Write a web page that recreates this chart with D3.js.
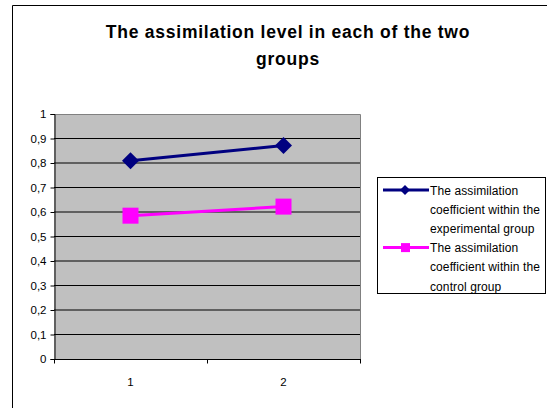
<!DOCTYPE html>
<html><head><meta charset="utf-8">
<script src="https://cdn.jsdelivr.net/npm/d3@7"></script>
<style>body{margin:0;background:#fff}svg{display:block}text{font-family:"Liberation Sans",Arial,sans-serif}</style>
</head><body>
<svg id="c" width="547" height="408"></svg>
<script>
const categories = ["1", "2"];
const seriesNames = ["The assimilation coefficient within the experimental group", "The assimilation coefficient within the control group"];
const experimental = [0.809, 0.871];
const control = [0.585, 0.622];
const yTicks = [0, 0.1, 0.2, 0.3, 0.4, 0.5, 0.6, 0.7, 0.8, 0.9, 1];
const yTickLabels = ["0", "0,1", "0,2", "0,3", "0,4", "0,5", "0,6", "0,7", "0,8", "0,9", "1"];
const titleLines = ["The assimilation level in each of the two", "groups"];
const legendLines = [["The assimilation", "coefficient within the", "experimental group"], ["The assimilation", "coefficient within the", "control group"]];

const svg = d3.select("#c");
// outer border
svg.append("path").attr("d", "M12.5,408V5.5H547").attr("fill", "none").attr("stroke", "#000").attr("stroke-width", 1);

// title
svg.append("g").selectAll("text").data(titleLines).join("text")
  .attr("x", 288).attr("y", (d, i) => 37.5 + i * 27)
  .attr("text-anchor", "middle").attr("font-size", 17.5).attr("font-weight", "bold")
  .attr("letter-spacing", 0.75)
  .attr("fill", "#000").text(d => d);

const L = 54, R = 360, T = 114, B = 359;
const x = d3.scaleBand().domain(categories).range([L, R]);
const y = d3.scaleLinear().domain([0, 1]).range([B, T]);

svg.append("rect").attr("x", L).attr("y", T).attr("width", R - L).attr("height", B - T).attr("fill", "#c0c0c0");
// gridlines
svg.append("g").selectAll("line").data(yTicks.slice(1, -1)).join("line")
  .attr("x1", L).attr("x2", R).attr("y1", d => y(d)).attr("y2", d => y(d))
  .attr("stroke", "#000").attr("stroke-width", 1);
// plot border top/right
svg.append("path").attr("d", `M${L},${T + 0.5}H${R + 0.5}V${B}`).attr("fill", "none").attr("stroke", "#808080").attr("stroke-width", 1);

// y axis
const yAxis = d3.axisLeft(y).tickValues(yTicks).tickFormat((d, i) => yTickLabels[i]).tickSizeOuter(0).tickSize(4).tickPadding(4);
const gy = svg.append("g").attr("transform", `translate(${L + 0.5},0)`).call(yAxis);
gy.selectAll("text").attr("font-size", 11.5).attr("font-family", "Liberation Sans, Arial, sans-serif").attr("fill", "#000");
gy.select(".domain").attr("stroke", "#000");
gy.selectAll(".tick line").attr("stroke", "#000");

// x axis
const xAxis = d3.axisBottom(x).tickSize(0).tickPadding(18);
const gx = svg.append("g").attr("transform", `translate(0,${B + 0.5})`).call(xAxis);
gx.selectAll("text").attr("font-size", 11.5).attr("font-family", "Liberation Sans, Arial, sans-serif").attr("fill", "#000");
gx.select(".domain").attr("d", `M${L},0H${R + 1}`).attr("stroke", "#000");
const bounds = [L, ...categories.map(c => x(c) + x.bandwidth())];
gx.append("g").selectAll("line").data(bounds).join("line")
  .attr("x1", d => d + 0.5).attr("x2", d => d + 0.5).attr("y1", 0).attr("y2", 4).attr("stroke", "#000");

const cx = c => x(c) + x.bandwidth() / 2;
const line = d3.line().x((d, i) => cx(categories[i])).y(d => y(d));
// experimental series
svg.append("path").datum(experimental).attr("d", line).attr("fill", "none").attr("stroke", "#000080").attr("stroke-width", 3);
svg.append("g").selectAll("path").data(experimental).join("path")
  .attr("d", d3.symbol().type(d3.symbolSquare).size(144))
  .attr("transform", (d, i) => `translate(${cx(categories[i])},${y(d)}) rotate(45)`)
  .attr("fill", "#000080");
// control series
svg.append("path").datum(control).attr("d", line).attr("fill", "none").attr("stroke", "#ff00ff").attr("stroke-width", 3);
svg.append("g").selectAll("rect").data(control).join("rect")
  .attr("x", (d, i) => cx(categories[i]) - 8).attr("y", d => y(d) - 8)
  .attr("width", 16).attr("height", 16).attr("fill", "#ff00ff");

// legend
const lg = svg.append("g");
lg.append("rect").attr("x", 377.5).attr("y", 177.5).attr("width", 168).attr("height", 116).attr("fill", "#fff").attr("stroke", "#000");
const colors = ["#000080", "#ff00ff"];
legendLines.forEach((lines, si) => {
  const y0 = 190 + si * 57.6;
  lg.append("line").attr("x1", 383).attr("x2", 429).attr("y1", y0).attr("y2", y0).attr("stroke", colors[si]).attr("stroke-width", 3);
  if (si === 0) {
    lg.append("path").attr("d", d3.symbol().type(d3.symbolSquare).size(50)).attr("transform", `translate(405,${y0}) rotate(45)`).attr("fill", colors[si]);
  } else {
    lg.append("rect").attr("x", 401).attr("y", y0 - 4.5).attr("width", 9).attr("height", 9).attr("fill", colors[si]);
  }
  lines.forEach((t, j) => {
    lg.append("text").attr("x", 430).attr("y", y0 + 4.5 + j * 19.2).attr("font-size", 12).attr("letter-spacing", 0.1).attr("fill", "#000").text(t);
  });
});
</script>
</body></html>
